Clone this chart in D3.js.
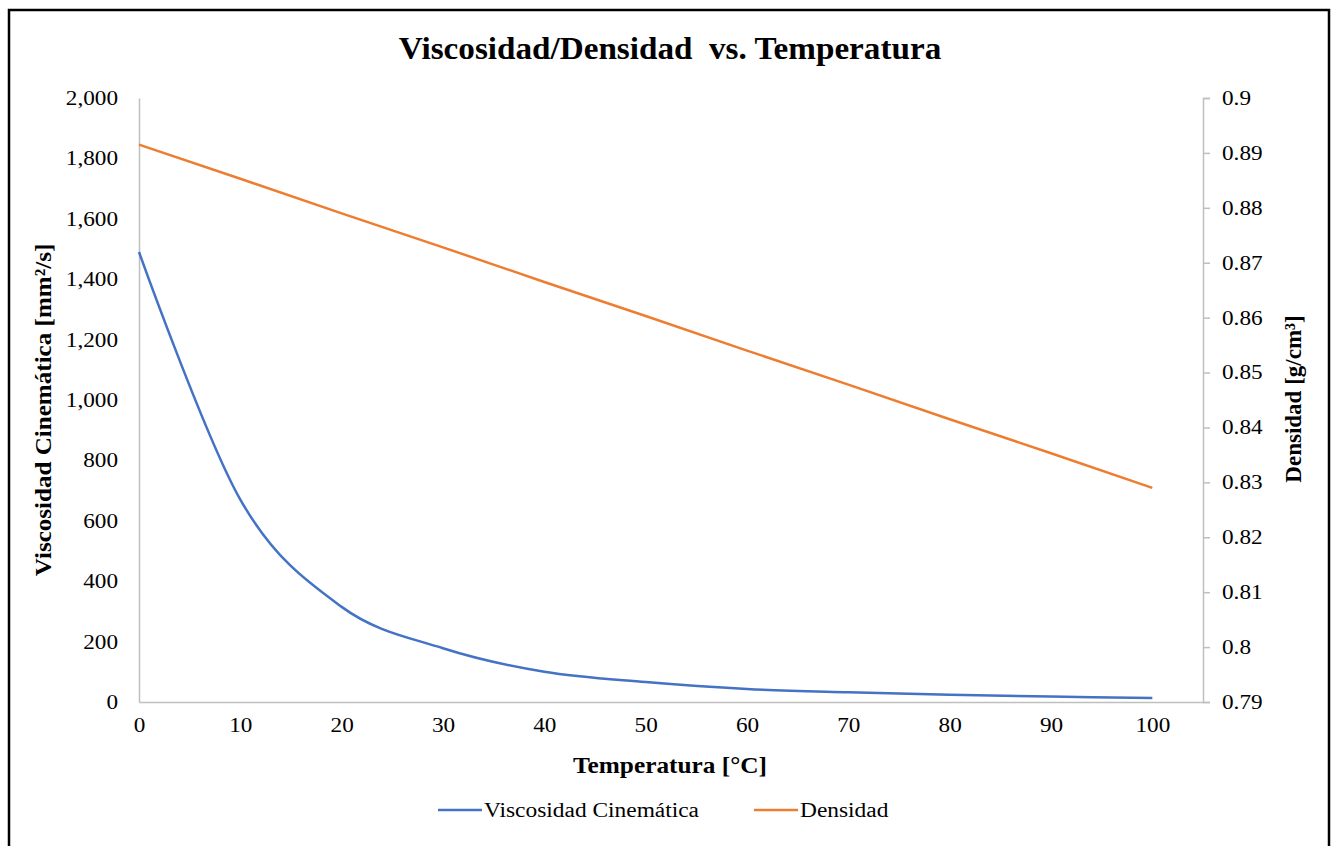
<!DOCTYPE html>
<html>
<head>
<meta charset="utf-8">
<script src="https://cdn.jsdelivr.net/npm/d3@7"></script>
<style>
  body { margin: 0; background: #fff; }
  text { font-family: "Liberation Serif", "Times New Roman", serif; fill: #000; }
</style>
</head>
<body>
<svg id="chart"></svg>
<script>
// data
const temps = [0, 10, 20, 30, 40, 50, 60, 70, 80, 90, 100];
const viscosidad = [1490, 670, 315, 178, 100, 66, 43, 32, 24, 18, 13];
const densidad = [0.8915, 0.8853, 0.879, 0.8728, 0.8665, 0.8603, 0.854, 0.8478, 0.8415, 0.8353, 0.829];
const xTicks = [0, 10, 20, 30, 40, 50, 60, 70, 80, 90, 100];
const yLeftTicks = [0, 200, 400, 600, 800, 1000, 1200, 1400, 1600, 1800, 2000];
const yRightTicks = [0.79, 0.8, 0.81, 0.82, 0.83, 0.84, 0.85, 0.86, 0.87, 0.88, 0.89, 0.9];

const W = 1335, H = 846;
const margin = { top: 98, right: 132, bottom: 144, left: 139 };
const width = W - margin.left - margin.right;
const height = H - margin.top - margin.bottom;

const blue = "#4472c4", orange = "#ed7d31", grey = "#bfbfbf";

// the source text is drawn a little wide, so widen glyphs by a factor
function stretch(sel, f) {
  sel.each(function () {
    const len = this.getComputedTextLength();
    d3.select(this).attr("textLength", len * f).attr("lengthAdjust", "spacingAndGlyphs");
  });
}

const svg = d3.select("#chart").attr("width", W).attr("height", H);

svg.append("rect").attr("width", W).attr("height", H).attr("fill", "#fff");
// outer frame (bottom edge falls outside the picture)
svg.append("rect")
  .attr("x", 9).attr("y", 10).attr("width", 1320).attr("height", 860)
  .attr("fill", "none").attr("stroke", "#000").attr("stroke-width", 2.5);

const g = svg.append("g").attr("transform", `translate(${margin.left},${margin.top})`);

const x = d3.scaleLinear().domain([0, 105]).range([0, width]);
const yL = d3.scaleLinear().domain([0, 2000]).range([height, 0]);
const yR = d3.scaleLinear().domain([0.79, 0.9]).range([height, 0]);

// left axis - line only, no ticks
const axL = g.append("g").attr("class", "y-axis-left")
  .call(d3.axisLeft(yL).tickValues(yLeftTicks).tickSize(0).tickPadding(21).tickFormat(d3.format(",")));
axL.select(".domain").attr("stroke", grey).attr("stroke-width", 1.5);
axL.selectAll("text").style("font-size", "20px").call(stretch, 1.16);

// bottom axis
const axB = g.append("g").attr("class", "x-axis")
  .attr("transform", `translate(0,${height})`)
  .call(d3.axisBottom(x).tickValues(xTicks).tickSize(0).tickPadding(16));
axB.select(".domain").attr("stroke", grey).attr("stroke-width", 1.5);
axB.selectAll("text").style("font-size", "20px").call(stretch, 1.16);

// right axis with outside ticks
const axR = g.append("g").attr("class", "y-axis-right")
  .attr("transform", `translate(${width},0)`)
  .call(d3.axisRight(yR).tickValues(yRightTicks).tickSizeOuter(0).tickSize(7).tickPadding(12).tickFormat(d => +d.toFixed(2) + ""));
axR.select(".domain").attr("stroke", grey).attr("stroke-width", 1.5);
axR.selectAll("line").attr("stroke", grey).attr("stroke-width", 1.5);
axR.selectAll("text").style("font-size", "20px").call(stretch, 1.16);

const visData = temps.map((t, i) => ({ t: t, v: viscosidad[i] }));
const denData = temps.map((t, i) => ({ t: t, v: densidad[i] }));

g.append("path").datum(visData)
  .attr("fill", "none").attr("stroke", blue).attr("stroke-width", 2.5)
  .attr("d", d3.line().x(d => x(d.t)).y(d => yL(d.v)).curve(d3.curveCardinal.tension(0)));

g.append("path").datum(denData)
  .attr("fill", "none").attr("stroke", orange).attr("stroke-width", 2.5)
  .attr("d", d3.line().x(d => x(d.t)).y(d => yR(d.v)));

// title
svg.append("text")
  .attr("x", 670).attr("y", 59).attr("text-anchor", "middle")
  .style("font-size", "31px").style("font-weight", "bold")
  .attr("xml:space", "preserve")
  .text("Viscosidad/Densidad  vs. Temperatura")
  .call(stretch, 1.07);

// axis titles
svg.append("text")
  .attr("x", 670).attr("y", 773).attr("text-anchor", "middle")
  .style("font-size", "23px").style("font-weight", "bold")
  .text("Temperatura [°C]")
  .call(stretch, 1.1);

svg.append("text")
  .attr("transform", "translate(51,410) rotate(-90)")
  .attr("text-anchor", "middle")
  .style("font-size", "23px").style("font-weight", "bold")
  .text("Viscosidad Cinemática [mm²/s]")
  .call(stretch, 1.09);

svg.append("text")
  .attr("transform", "translate(1301,399) rotate(-90)")
  .attr("text-anchor", "middle")
  .style("font-size", "23px").style("font-weight", "bold")
  .text("Densidad [g/cm³]");

// legend
const legendItems = [
  { name: "Viscosidad Cinemática", color: blue, x: 438 },
  { name: "Densidad", color: orange, x: 754 }
];
const legend = svg.append("g").attr("class", "legend")
  .selectAll("g").data(legendItems).enter().append("g")
  .attr("transform", d => `translate(${d.x},810)`);
legend.append("line").attr("x1", 0).attr("x2", 44).attr("y1", 0).attr("y2", 0)
  .attr("stroke", d => d.color).attr("stroke-width", 2.5);
legend.append("text").attr("x", 46).attr("y", 7)
  .style("font-size", "20px").text(d => d.name)
  .call(stretch, 1.17);
</script>
</body>
</html>
